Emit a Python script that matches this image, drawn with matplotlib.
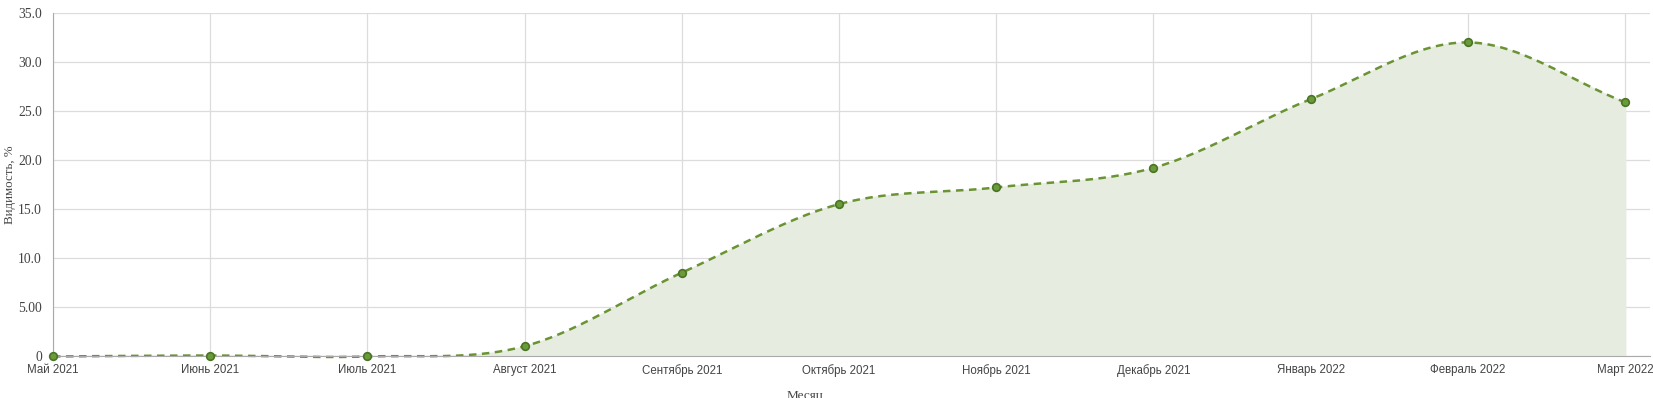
import numpy as np
import matplotlib as mpl
mpl.use('Agg')
import matplotlib.pyplot as plt

# months and visibility values (%)
months = ["Май 2021", "Июнь 2021", "Июль 2021", "Август 2021", "Сентябрь 2021",
          "Октябрь 2021", "Ноябрь 2021", "Декабрь 2021", "Январь 2022",
          "Февраль 2022", "Март 2022"]
visibility = [-0.05, 0.05, -0.05, 1.0, 8.5, 15.5, 17.2, 19.2, 26.2, 32.0, 25.9]
ytick_vals = [0, 5, 10, 15, 20, 25, 30, 35]
ytick_labels = ["0", "5.00", "10.0", "15.0", "20.0", "25.0", "30.0", "35.0"]

line_col = "#6a9334"
fill_col = "#e6ecdf"
grid_col = "#dcdcdc"


def smooth(x, y, steps=30, t=0.5):
    # cardinal spline through the points (like curveType 'function')
    x = np.asarray(x, float)
    y = np.asarray(y, float)
    n = len(x)
    m = np.zeros(n)
    for i in range(n):
        if i == 0:
            m[i] = (y[1] - y[0]) / (x[1] - x[0])
        elif i == n - 1:
            m[i] = (y[-1] - y[-2]) / (x[-1] - x[-2])
        else:
            m[i] = (y[i + 1] - y[i - 1]) / (x[i + 1] - x[i - 1])
    m = m * 2 * t
    xs, ys = [], []
    for i in range(n - 1):
        h = x[i + 1] - x[i]
        s = np.linspace(0, 1, steps, endpoint=(i == n - 2))
        h00 = 2 * s**3 - 3 * s**2 + 1
        h10 = s**3 - 2 * s**2 + s
        h01 = -2 * s**3 + 3 * s**2
        h11 = s**3 - s**2
        xs.append(x[i] + s * h)
        ys.append(h00 * y[i] + h10 * h * m[i] + h01 * y[i + 1] + h11 * h * m[i + 1])
    return np.concatenate(xs), np.concatenate(ys)


xpos = np.arange(len(months))
sx, sy = smooth(xpos, visibility)

fig = plt.figure(figsize=(16.53, 3.98), dpi=100)
ax = fig.add_axes([53 / 1653, 1 - 356 / 398, (1650 - 53) / 1653, (356 - 13) / 398])

ax.fill_between(sx, sy, 0, color=fill_col, zorder=1)
ax.plot(sx, sy, color=line_col, lw=1.8, ls=(0, (3, 2.2)), zorder=3, clip_on=False)
ax.plot(xpos, visibility, 'o', ms=5.5, color="#6a9a3a", mec="#4a7424", mew=1.2,
        zorder=6, clip_on=False)

ax.set_xlim(0, 10 + 25 / 157.2)
ax.set_ylim(0, 35)
ax.set_xticks(xpos)
ax.set_xticklabels(months, fontsize=8.3, color="#444444", family="Liberation Sans")
ax.set_yticks(ytick_vals)
ax.set_yticklabels(ytick_labels, fontsize=9.8, color="#444444", family="Liberation Serif")
ax.tick_params(axis='both', length=0)
ax.tick_params(axis='x', pad=6)
ax.tick_params(axis='y', pad=8)

ax.grid(True, color=grid_col, lw=0.9, zorder=0)
ax.set_axisbelow(True)
for side in ["top", "right"]:
    ax.spines[side].set_visible(False)
ax.spines["left"].set_color("#aaaaaa")
ax.spines["bottom"].set_color("#aaaaaa")
ax.spines["left"].set_zorder(5)
ax.spines["bottom"].set_zorder(5)

fig.text(10 / 1653, 1 - 185 / 398, "Видимость, %", rotation=90, ha="center", va="center",
         fontsize=9.3, color="#444444", family="Liberation Serif")
fig.text(805 / 1653, 1 - 396 / 398, "Месяц", ha="center", va="center",
         fontsize=9.5, color="#444444", family="Liberation Serif")

fig.savefig("out.png", dpi=100)
